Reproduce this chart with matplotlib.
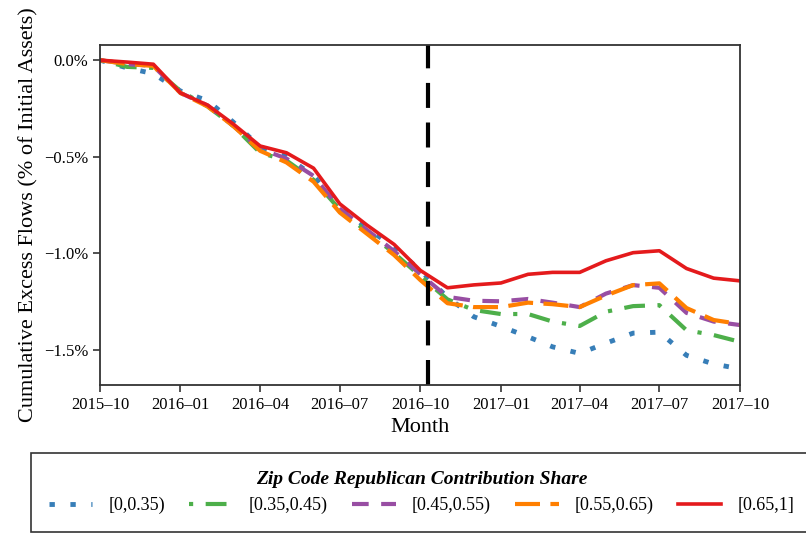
import matplotlib.pyplot as plt
import matplotlib.dates as mdates
from matplotlib.ticker import FuncFormatter
import pandas as pd

plt.rcParams['font.family'] = ['Liberation Serif', 'DejaVu Serif']

months = pd.date_range('2015-10-01', periods=25, freq='MS')
event_date = pd.Timestamp('2016-10-10')

labels = ['[0,0.35)', '[0.35,0.45)', '[0.45,0.55)', '[0.55,0.65)', '[0.65,1]']
colors = ['#377eb8', '#4daf4a', '#984ea3', '#ff7f00', '#e41a1c']

# cumulative excess flows, % of initial assets
blue = [0, -0.04, -0.07, -0.16, -0.21, -0.32, -0.45, -0.50, -0.60, -0.76, -0.87, -0.97, -1.09,
        -1.23, -1.33, -1.38, -1.434, -1.486, -1.52, -1.467, -1.415, -1.41, -1.53, -1.575, -1.60]
green = [0, -0.035, -0.04, -0.16, -0.24, -0.34, -0.48, -0.52, -0.62, -0.775, -0.89, -1.0, -1.12,
         -1.24, -1.295, -1.316, -1.316, -1.355, -1.378, -1.304, -1.275, -1.27, -1.40, -1.425, -1.46]
purple = [0, -0.02, -0.03, -0.17, -0.235, -0.34, -0.46, -0.51, -0.60, -0.77, -0.88, -0.99, -1.11,
          -1.227, -1.247, -1.25, -1.238, -1.257, -1.28, -1.21, -1.166, -1.18, -1.31, -1.355, -1.373]
orange = [0, -0.02, -0.03, -0.17, -0.24, -0.34, -0.47, -0.53, -0.63, -0.79, -0.90, -1.01, -1.14,
          -1.26, -1.28, -1.28, -1.257, -1.265, -1.28, -1.22, -1.166, -1.157, -1.285, -1.347, -1.368]
red = [0, -0.01, -0.021, -0.17, -0.233, -0.33, -0.445, -0.48, -0.56, -0.745, -0.855, -0.955, -1.09,
       -1.18, -1.165, -1.155, -1.11, -1.10, -1.10, -1.04, -0.998, -0.988, -1.08, -1.13, -1.144]

series = [blue, green, purple, orange, red]
styles = [dict(linestyle=(0, (1.1, 3.2)), lw=3.5),
          dict(linestyle=(0, (1, 3, 5, 3)), lw=3),
          dict(linestyle=(0, (4, 3)), lw=3),
          dict(linestyle=(0, (6, 2.5)), lw=3),
          dict(linestyle='-', lw=2.6)]

fig = plt.figure(figsize=(8.06, 5.37), dpi=100)
ax = fig.add_axes([0.124, 0.283, 0.794, 0.633])

for vals, lab, c, st in zip(series, labels, colors, styles):
    ax.plot(months, vals, color=c, label=lab, **st)

ax.axvline(event_date, color='black', lw=3, linestyle=(0, (6, 3.5)))

ax.set_xlim(months[0], months[-1])
ax.set_ylim(-1.684, 0.078)
ax.set_yticks([0.0, -0.5, -1.0, -1.5])
ax.yaxis.set_major_formatter(FuncFormatter(lambda v, p: ('%.1f%%' % v).replace('-', '\u2212')))
ax.xaxis.set_major_locator(mdates.MonthLocator(bymonth=[1, 4, 7, 10]))
ax.xaxis.set_major_formatter(mdates.DateFormatter('%Y\u2013%m'))
ax.tick_params(labelsize=12, length=5, width=1.2, color='#333333')
for s in ax.spines.values():
    s.set_color('#333333')
    s.set_linewidth(1.3)

ax.set_xlabel('Month', fontsize=16)
ax.set_ylabel('Cumulative Excess Flows (% of Initial Assets)', fontsize=16)

leg = fig.legend(loc='upper left', bbox_to_anchor=(0.038, 1 - 453 / 537),
                 ncol=5, fontsize=13, fancybox=False, edgecolor='black', handlelength=2.4,
                 columnspacing=1.35, handletextpad=0.9, borderaxespad=0, borderpad=1.0,
                 title='Zip Code Republican Contribution Share',
                 title_fontproperties={'weight': 'bold', 'style': 'italic', 'size': 14})
leg.get_frame().set_linewidth(1.2)

fig.savefig('out.png', dpi=100)
